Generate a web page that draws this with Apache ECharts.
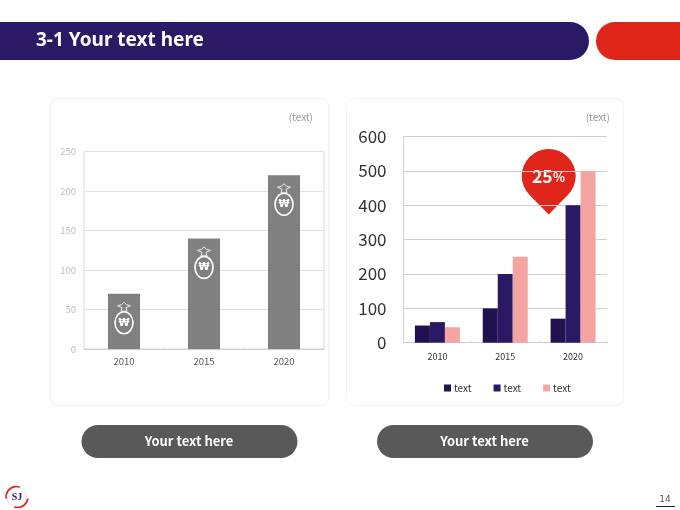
<!DOCTYPE html>
<html><head><meta charset="utf-8">
<style>html,body{margin:0;padding:0;background:#fff}#c{width:680px;height:510px}</style>
<script src="https://cdn.jsdelivr.net/npm/echarts@6/dist/echarts.min.js"></script>
</head><body><div id="c"></div>
<script>
const years = ['2010','2015','2020'];
const leftValues = [70,140,220];
const rightA = [50,100,70];
const rightB = [60,200,400];
const rightC = [45,250,500];
const legendLabels = {a:'text',b:'text',c:'text'};
const FONT = '"Noto Sans CJK KR","Noto Sans",sans-serif';
const NAVY = '#2a1a66', DARK = '#21114f', PINK = '#f4a5a2', RED = '#e0251b', GREY = '#808080', PILL = '#595959';

const chart = echarts.init(document.getElementById('c'), null, {renderer:'canvas'});

function bagIcon(params, api){
  const p = api.coord([api.value(0), api.value(1)]);
  const x = p[0], t = p[1];
  const s = {stroke:'#fff', fill:'none', lineWidth:1.6};
  return {type:'group', silent:true, children:[
    {type:'ellipse', shape:{cx:x, cy:t+29, rx:9, ry:11}, style:s},
    {type:'polygon', shape:{points:[[x-3,t+17.5],[x+3,t+17.5],[x+2,t+14],[x+6.5,t+12],[x+2.5,t+11],[x,t+8.5],[x-2.5,t+11],[x-6.5,t+12],[x-2,t+14]]},
      style:{stroke:'#eee', fill:'none', lineWidth:1}},
    {type:'text', style:{x:x, y:t+29.5, text:'₩', fill:'#fff', font:'bold 10px "DejaVu Sans"', textAlign:'center', textVerticalAlign:'middle'}}
  ]};
}

function pill(x){
  return [
    {type:'rect', shape:{x:x,y:425,width:216,height:33,r:16.5}, style:{fill:PILL}, silent:true},
    {type:'text', style:{x:x+107.5,y:441,text:'Your text here',fill:'#fff',font:'bold 13px '+FONT,textAlign:'center',textVerticalAlign:'middle'}, silent:true}
  ];
}

chart.setOption({
  animation:false,
  backgroundColor:'#fff',
  textStyle:{fontFamily:FONT},
  legend:{
    left:439, top:378, itemWidth:7, itemHeight:7, itemGap:22,
    icon:'rect',
    data:['a','b','c'],
    formatter:n=>legendLabels[n],
    textStyle:{fontSize:10,color:'#333',fontFamily:FONT,padding:[0,0,0,-2]}
  },
  grid:[
    {left:84,top:151.5,width:240,height:197.5,show:true,borderColor:'#dcdcdc',borderWidth:1,backgroundColor:'transparent'},
    {left:403.5,top:136.7,width:203.5,height:206}
  ],
  xAxis:[
    {type:'category',gridIndex:0,data:years,
      axisLine:{lineStyle:{color:'#cfcfcf',width:1}},
      axisTick:{show:true,inside:true,length:2,lineStyle:{color:'#e4e4e4'}},
      axisLabel:{fontSize:9.5,color:'#555',margin:8}},
    {type:'category',gridIndex:1,data:years,
      axisLine:{lineStyle:{color:'#c8c8c8',width:1}},
      axisTick:{show:true,inside:true,length:2,lineStyle:{color:'#dcdcdc'}},
      axisLabel:{fontSize:9,color:'#333',margin:9}}
  ],
  yAxis:[
    {type:'value',gridIndex:0,min:0,max:250,interval:50,
      axisLine:{show:false},axisTick:{show:false},
      splitLine:{lineStyle:{color:'#e2e2e2',width:1}},
      axisLabel:{fontSize:9.5,color:'#bdbdbd',margin:8}},
    {type:'value',gridIndex:1,min:0,max:600,interval:100,
      axisLine:{show:true,lineStyle:{color:'#d5d5d5',width:1}},axisTick:{show:false},
      splitLine:{lineStyle:{color:'#cfcfcf',width:1}},
      axisLabel:{fontSize:17,color:'#333',margin:17}}
  ],
  series:[
    {type:'bar',xAxisIndex:0,yAxisIndex:0,data:leftValues,barWidth:32,itemStyle:{color:GREY},z:2},
    {type:'custom',xAxisIndex:0,yAxisIndex:0,data:leftValues.map((v,i)=>[i,v]),renderItem:bagIcon,z:3,silent:true},
    {name:'a',type:'bar',xAxisIndex:1,yAxisIndex:1,data:rightA,barWidth:15,barGap:0,itemStyle:{color:DARK},z:2},
    {name:'b',type:'bar',xAxisIndex:1,yAxisIndex:1,data:rightB,barWidth:15,barGap:0,itemStyle:{color:NAVY},z:2},
    {name:'c',type:'bar',xAxisIndex:1,yAxisIndex:1,data:rightC,barWidth:15,barGap:0,itemStyle:{color:PINK},z:2}
  ],
  graphic:[
    {type:'rect',shape:{x:50.5,y:98.5,width:278,height:307,r:7},style:{fill:'none',stroke:'#f1f1f1',lineWidth:1},silent:true},
    {type:'rect',shape:{x:346.5,y:98.5,width:277,height:307,r:7},style:{fill:'none',stroke:'#f3f3f3',lineWidth:1},silent:true},
    {type:'rect',shape:{x:-30,y:22,width:619,height:38,r:[0,19,19,0]},style:{fill:NAVY},silent:true},
    {type:'rect',shape:{x:596,y:22,width:120,height:38,r:[19,0,0,19]},style:{fill:RED},silent:true},
    {type:'text',style:{x:36,y:41,text:'3-1 Your text here',fill:'#fff',font:'bold 19px "Noto Sans"',textAlign:'left',textVerticalAlign:'middle'},silent:true},
    {type:'text',style:{x:313,y:117,text:'(text)',fill:'#9a9a9a',font:'10px '+FONT,textAlign:'right',textVerticalAlign:'middle'},silent:true},
    {type:'text',style:{x:610,y:117,text:'(text)',fill:'#9a9a9a',font:'10px '+FONT,textAlign:'right',textVerticalAlign:'middle'},silent:true},
    {type:'group',silent:true,z:20,children:[
      {type:'polygon',shape:{points:[[529.6,195],[567.8,195],[548.7,214.5]]},style:{fill:RED}},
      {type:'circle',shape:{cx:548.7,cy:176,r:27},style:{fill:RED}},
      {type:'text',style:{x:532,y:176,text:'25',fill:'#fff',font:'bold 17.5px '+FONT,textAlign:'left',textVerticalAlign:'middle'}},
      {type:'text',style:{x:553,y:177.5,text:'%',fill:'#fff',font:'bold 12.5px '+FONT,textAlign:'left',textVerticalAlign:'middle'}}
    ]},
    ...pill(81.5),
    ...pill(377),
    {type:'group',silent:true,children:[
      {type:'circle',shape:{cx:17,cy:497,r:10},style:{stroke:'#c9cbdc',fill:'none',lineWidth:0.6}},
      {type:'arc',shape:{cx:16.5,cy:497,r:10.5,startAngle:Math.PI*0.95,endAngle:Math.PI*1.6},style:{stroke:RED,fill:'none',lineWidth:1.6}},
      {type:'arc',shape:{cx:17.5,cy:497,r:10.5,startAngle:Math.PI*0.05,endAngle:Math.PI*0.6},style:{stroke:RED,fill:'none',lineWidth:1.6}},
      {type:'text',style:{x:17,y:497,text:'SJ',fill:NAVY,font:'bold 10px "Liberation Serif"',textAlign:'center',textVerticalAlign:'middle'}}
    ]},
    {type:'text',style:{x:665,y:500,text:'14',fill:'#555',font:'9px "DejaVu Sans"',textAlign:'center',textVerticalAlign:'middle'},silent:true},
    {type:'line',shape:{x1:656,y1:506.5,x2:675,y2:506.5},style:{stroke:NAVY,lineWidth:1},silent:true}
  ]
});
</script></body></html>
